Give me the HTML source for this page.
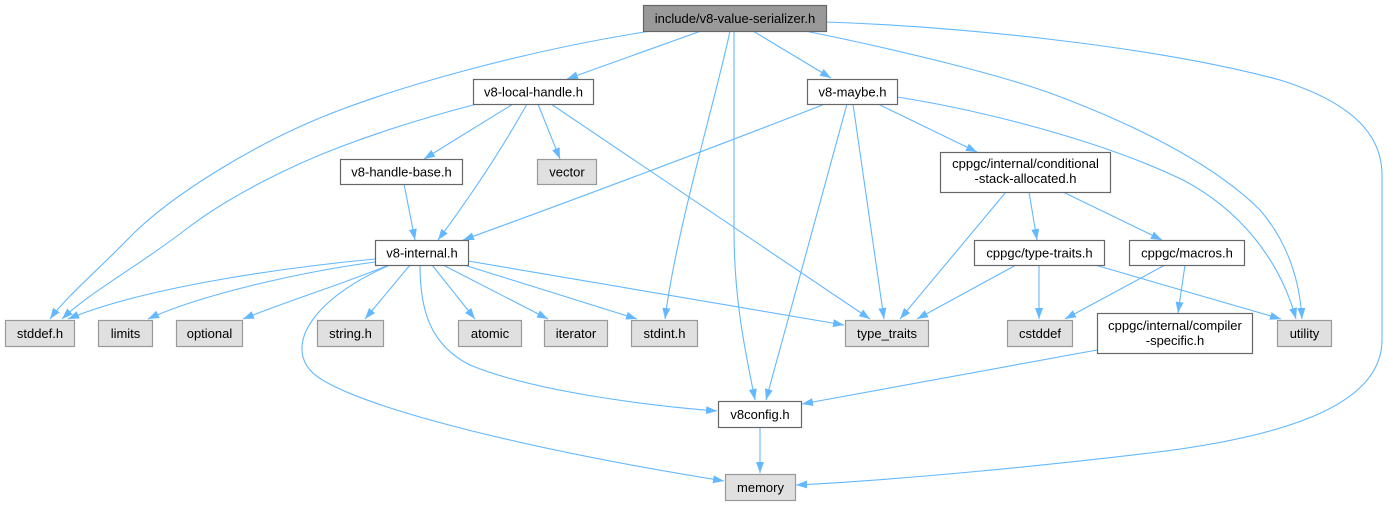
<!DOCTYPE html>
<html><head><meta charset="utf-8"><style>
html,body{margin:0;padding:0;background:#fff;}
svg{display:block;}
text{font-family:"Liberation Sans",Arial,sans-serif;font-size:13px;fill:#000;text-anchor:middle;}
.e{fill:none;stroke:#63b8ff;stroke-width:1.1;marker-end:url(#a);}
.w{fill:#fff;stroke:#666;stroke-width:1.2;}
.g{fill:#e0e0e0;stroke:#999;stroke-width:1.2;}
.r{fill:#999;stroke:#666;stroke-width:1.2;}
</style></head><body>
<svg width="1388" height="505" viewBox="0 0 1388 505" xmlns="http://www.w3.org/2000/svg">
<defs>
<marker id="a" markerWidth="11" markerHeight="8" refX="11" refY="4" orient="auto" markerUnits="userSpaceOnUse"><path d="M0,0 L11,4 L0,8 z" fill="#63b8ff"/></marker>
</defs>
<!-- edges from root -->
<path class="e" d="M651,31 C540,48 420,80 340,110 C260,140 170,195 127,240 C100,268 65,298 50,319"/>
<path class="e" d="M701,31 L567,79"/>
<path class="e" d="M730,31 C718,90 676,230 665,319"/>
<path class="e" d="M734,31 L734,230 C734,300 745,350 755,400"/>
<path class="e" d="M753,31 L831,78"/>
<path class="e" d="M805,31 C900,50 1000,75 1050,93 C1150,130 1220,170 1260,210 C1290,245 1300,285 1302,319"/>
<path class="e" d="M826,22 C950,26 1150,45 1280,80 C1360,105 1382,140 1382,175 L1382,340 C1382,400 1300,435 1150,453 C1050,465 900,480 796,485"/>
<!-- v8-local-handle.h -->
<path class="e" d="M477,104 C430,116 385,130 340,147 C295,164 230,195 185,230 C140,265 90,292 62,319"/>
<path class="e" d="M513,104 L424,159"/>
<path class="e" d="M527,104 Q490,170 438,240"/>
<path class="e" d="M538,104 L560,159"/>
<path class="e" d="M551,104 L870,319"/>
<!-- v8-maybe.h -->
<path class="e" d="M825,104 C720,145 560,205 463,240"/>
<path class="e" d="M847,104 L766,400"/>
<path class="e" d="M853,104 L884,319"/>
<path class="e" d="M878,104 L977,152"/>
<path class="e" d="M897,97 C980,110 1100,140 1183,180 C1240,210 1280,260 1296,319"/>
<!-- handle-base -->
<path class="e" d="M404,184 L415,240"/>
<!-- conditional -->
<path class="e" d="M1006,192 L900,319"/>
<path class="e" d="M1029,192 L1037,240"/>
<path class="e" d="M1063,192 L1162,240"/>
<!-- type-traits.h -->
<path class="e" d="M1016,265 L917,319"/>
<path class="e" d="M1039,265 L1039,319"/>
<path class="e" d="M1095,265 L1281,319"/>
<!-- macros.h -->
<path class="e" d="M1165,265 L1065,319"/>
<path class="e" d="M1185,265 L1178,313"/>
<!-- compiler-specific -->
<path class="e" d="M1097,350 L802,404"/>
<!-- v8-internal.h -->
<path class="e" d="M375,259 C300,266 150,285 68,319"/>
<path class="e" d="M375,262 C300,272 200,295 148,319"/>
<path class="e" d="M389,265 C340,285 290,300 243,319"/>
<path class="e" d="M410,265 L365,319"/>
<path class="e" d="M432,265 L475,319"/>
<path class="e" d="M443,265 L548,319"/>
<path class="e" d="M464,265 L637,319"/>
<path class="e" d="M468,261 L844,325"/>
<path class="e" d="M390,265 C320,295 285,340 310,370 C335,400 500,445 724,481"/>
<path class="e" d="M420,265 C420,310 430,345 470,365 C530,390 640,405 717,411"/>
<!-- v8config -->
<path class="e" d="M760,427 L760,473"/>

<!-- nodes -->
<rect class="r" x="643.5" y="5.5" width="183" height="26"/>
<text x="735" y="23">include/v8-value-serializer.h</text>

<rect class="w" x="473.5" y="79.5" width="120" height="25"/>
<text x="533.5" y="96.5">v8-local-handle.h</text>

<rect class="w" x="807.5" y="79.5" width="90" height="25"/>
<text x="852.5" y="96.5">v8-maybe.h</text>

<rect class="w" x="340.5" y="159.5" width="122" height="25"/>
<text x="401.5" y="176.5">v8-handle-base.h</text>

<rect class="g" x="537.5" y="159.5" width="59" height="25"/>
<text x="567" y="176.5">vector</text>

<rect class="w" x="940.5" y="152.5" width="170" height="40"/>
<text x="1025.5" y="168">cppgc/internal/conditional</text>
<text x="1025.5" y="183">-stack-allocated.h</text>

<rect class="w" x="375.5" y="240.5" width="93" height="25"/>
<text x="422" y="257.5">v8-internal.h</text>

<rect class="w" x="974.5" y="240.5" width="130" height="25"/>
<text x="1039.5" y="257.5">cppgc/type-traits.h</text>

<rect class="w" x="1129.5" y="240.5" width="115" height="25"/>
<text x="1187" y="257.5">cppgc/macros.h</text>

<rect class="g" x="5.5" y="320.5" width="69" height="26"/>
<text x="40" y="338">stddef.h</text>

<rect class="g" x="98.5" y="320.5" width="54" height="26"/>
<text x="125.5" y="338">limits</text>

<rect class="g" x="176.5" y="320.5" width="66" height="26"/>
<text x="209.5" y="338">optional</text>

<rect class="g" x="317.5" y="320.5" width="66" height="26"/>
<text x="350.5" y="338">string.h</text>

<rect class="g" x="458.5" y="320.5" width="63" height="26"/>
<text x="490" y="338">atomic</text>

<rect class="g" x="544.5" y="320.5" width="63" height="26"/>
<text x="576" y="338">iterator</text>

<rect class="g" x="631.5" y="320.5" width="66" height="26"/>
<text x="664.5" y="338">stdint.h</text>

<rect class="g" x="845.5" y="320.5" width="83" height="26"/>
<text x="887" y="338">type_traits</text>

<rect class="g" x="1007.5" y="320.5" width="65" height="26"/>
<text x="1040" y="338">cstddef</text>

<rect class="w" x="1097.5" y="313.5" width="155" height="40"/>
<text x="1175" y="330">cppgc/internal/compiler</text>
<text x="1175" y="345">-specific.h</text>

<rect class="g" x="1277.5" y="320.5" width="54" height="26"/>
<text x="1304.5" y="338">utility</text>

<rect class="w" x="718.5" y="401.5" width="83" height="26"/>
<text x="760" y="419">v8config.h</text>

<rect class="g" x="725.5" y="474.5" width="70" height="26"/>
<text x="760.5" y="492">memory</text>
</svg>
</body></html>
